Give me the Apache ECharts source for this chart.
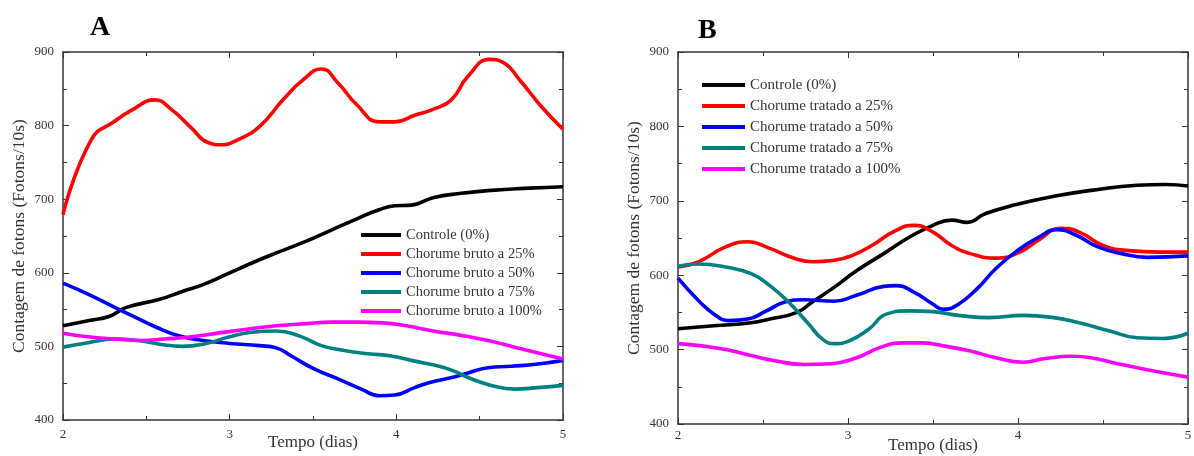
<!DOCTYPE html>
<html>
<head>
<meta charset="utf-8">
<script src="https://cdn.jsdelivr.net/npm/echarts/dist/echarts.min.js"></script>
<style>
  html, body { margin: 0; padding: 0; background: #fff; }
  #chart { width: 1194px; height: 456px; }
</style>
</head>
<body>
<div id="chart"></div>
<script>
// eixo y / eixo x
var yTicks = [400, 500, 600, 700, 800, 900];
var xTicks = [2, 3, 4, 5];

// ---- painel A (chorume bruto) ----
var namesA = ["Controle (0%)", "Chorume bruto a 25%", "Chorume bruto a 50%", "Chorume bruto a 75%", "Chorume bruto a 100%"];

var aCtrlX = [2.0, 2.15, 2.28, 2.38, 2.58, 2.72, 2.84, 3.0, 3.14, 3.28, 3.46, 3.6, 3.76, 3.9, 3.99, 4.09, 4.22, 4.39, 4.57, 4.8, 5.0];
var aCtrlY = [528, 535, 541, 553, 564, 575, 584, 600, 614, 627, 643, 657, 673, 686, 691, 692, 702, 708, 712, 715, 717];

var a25X = [2.0, 2.17, 2.31, 2.42, 2.55, 2.65, 2.77, 2.87, 2.95, 3.05, 3.18, 3.32, 3.44, 3.55, 3.65, 3.76, 3.9, 3.99, 4.11, 4.22, 4.33, 4.43, 4.56, 4.64, 4.74, 4.87, 5.0];
var a25Y = [679, 781, 806, 822, 835, 822, 797, 777, 774, 781, 799, 835, 862, 877, 858, 829, 805, 805, 814, 822, 835, 867, 890, 886, 862, 826, 795];

var a50X = [2.0, 2.15, 2.31, 2.42, 2.56, 2.7, 2.84, 3.0, 3.18, 3.28, 3.37, 3.51, 3.65, 3.79, 3.9, 3.99, 4.11, 4.2, 4.34, 4.43, 4.55, 4.69, 4.85, 5.0];
var a50Y = [586, 571, 553, 541, 526, 514, 508, 504, 501, 498, 487, 469, 456, 442, 433, 434, 444, 451, 458, 464, 471, 473, 476, 481];

var a75X = [2.0, 2.15, 2.31, 2.45, 2.58, 2.72, 2.84, 3.0, 3.12, 3.28, 3.42, 3.55, 3.67, 3.83, 3.97, 4.11, 4.22, 4.34, 4.45, 4.57, 4.71, 4.85, 5.0];
var a75Y = [499, 505, 510, 508, 503, 500, 503, 513, 519, 521, 514, 501, 495, 490, 487, 480, 475, 467, 456, 447, 442, 444, 447];

var a100X = [2.0, 2.15, 2.31, 2.47, 2.61, 2.77, 2.93, 3.09, 3.28, 3.46, 3.62, 3.76, 3.92, 4.06, 4.22, 4.39, 4.55, 4.71, 4.87, 5.0];
var a100Y = [518, 513, 510, 508, 510, 513, 518, 523, 528, 531, 533, 533, 532, 528, 521, 515, 508, 499, 490, 483];

// ---- painel B (chorume tratado) ----
var namesB = ["Controle (0%)", "Chorume tratado a 25%", "Chorume tratado a 50%", "Chorume tratado a 75%", "Chorume tratado a 100%"];

var bCtrlX = [2.0, 2.21, 2.43, 2.54, 2.7, 2.79, 2.92, 3.05, 3.21, 3.36, 3.5, 3.61, 3.7, 3.81, 3.99, 4.21, 4.43, 4.7, 4.87, 5.0];
var bCtrlY = [528, 532, 536, 541, 550, 564, 584, 606, 629, 651, 667, 674, 671, 683, 695, 706, 714, 721, 722, 720];

var b25X = [2.0, 2.12, 2.28, 2.41, 2.54, 2.68, 2.79, 2.92, 3.03, 3.14, 3.28, 3.39, 3.5, 3.61, 3.72, 3.87, 4.01, 4.12, 4.25, 4.36, 4.5, 4.65, 4.83, 5.0];
var b25Y = [611, 618, 638, 645, 636, 623, 618, 620, 627, 640, 660, 667, 658, 640, 629, 623, 631, 647, 663, 658, 640, 633, 631, 631];

var b50X = [2.0, 2.12, 2.21, 2.3, 2.41, 2.52, 2.63, 2.74, 2.92, 3.05, 3.21, 3.28, 3.39, 3.5, 3.56, 3.65, 3.76, 3.87, 3.99, 4.12, 4.23, 4.34, 4.47, 4.61, 4.76, 5.0];
var b50Y = [596, 566, 548, 539, 541, 552, 564, 567, 565, 573, 585, 586, 577, 561, 554, 561, 582, 609, 632, 651, 661, 654, 638, 629, 624, 626];

var b75X = [2.0, 2.12, 2.28, 2.43, 2.54, 2.65, 2.77, 2.85, 2.92, 3.01, 3.12, 3.23, 3.36, 3.5, 3.65, 3.83, 4.03, 4.21, 4.36, 4.54, 4.7, 4.85, 5.0];
var b75Y = [612, 615, 611, 602, 586, 564, 534, 514, 508, 512, 527, 548, 552, 551, 546, 543, 546, 543, 536, 525, 516, 515, 522];

var b100X = [2.0, 2.14, 2.28, 2.43, 2.57, 2.74, 2.9, 3.05, 3.19, 3.32, 3.43, 3.56, 3.72, 3.87, 4.03, 4.16, 4.32, 4.43, 4.61, 4.76, 5.0];
var b100Y = [508, 505, 500, 492, 485, 480, 481, 489, 503, 509, 509, 505, 498, 489, 483, 488, 491, 489, 480, 473, 463];

var colors = ["#000000", "#ff0000", "#0000ff", "#008080", "#ff00ff"];
var serif = "Liberation Serif, Times New Roman, serif";
var txt = "#333333";

function pairs(xs, ys) {
  var out = [];
  for (var i = 0; i < xs.length; i++) out.push([xs[i], ys[i]]);
  return out;
}

function xAxisFor(grid, pos, labelMargin, nameGap) {
  var bottom = pos === "bottom";
  return {
    type: "value",
    gridIndex: grid,
    position: pos,
    min: xTicks[0],
    max: xTicks[xTicks.length - 1],
    interval: 1,
    name: bottom ? "Tempo (dias)" : "",
    nameLocation: "middle",
    nameGap: nameGap,
    nameMoveOverlap: false,
    nameTextStyle: { fontFamily: serif, fontSize: 17, color: txt },
    axisLine: { lineStyle: { color: "#333", width: 1.5 } },
    axisTick: { inside: true, length: 6, lineStyle: { color: "#333" } },
    minorTick: { show: true, splitNumber: 2, length: 4, lineStyle: { color: "#333" } },
    splitLine: { show: false },
    axisLabel: { show: bottom, fontFamily: serif, fontSize: 13, color: txt, margin: labelMargin }
  };
}

function yAxisFor(grid, pos) {
  var left = pos === "left";
  return {
    type: "value",
    gridIndex: grid,
    position: pos,
    min: yTicks[0],
    max: yTicks[yTicks.length - 1],
    interval: 100,
    name: left ? "Contagem de fotons (Fotons/10s)" : "",
    nameLocation: "middle",
    nameGap: 35,
    nameMoveOverlap: false,
    nameTextStyle: { fontFamily: serif, fontSize: 17.5, color: txt },
    axisLine: { show: true, lineStyle: { color: "#333", width: 1.5 } },
    axisTick: { inside: true, length: 6, lineStyle: { color: "#333" } },
    minorTick: { show: true, splitNumber: 2, length: 4, lineStyle: { color: "#333" } },
    splitLine: { show: false },
    axisLabel: { show: left, fontFamily: serif, fontSize: 13, color: txt, margin: 9 }
  };
}

function lineSeries(name, data, i, axisIdx) {
  return {
    name: name,
    type: "line",
    xAxisIndex: axisIdx,
    yAxisIndex: axisIdx,
    data: data,
    smooth: 0.5,
    showSymbol: false,
    symbol: "none",
    lineStyle: { width: 3.6, color: colors[i] },
    itemStyle: { color: colors[i] },
    silent: true
  };
}

var dataA = [pairs(aCtrlX, aCtrlY), pairs(a25X, a25Y), pairs(a50X, a50Y), pairs(a75X, a75Y), pairs(a100X, a100Y)];
var dataB = [pairs(bCtrlX, bCtrlY), pairs(b25X, b25Y), pairs(b50X, b50Y), pairs(b75X, b75Y), pairs(b100X, b100Y)];

var series = [];
for (var i = 0; i < 5; i++) series.push(lineSeries(namesA[i], dataA[i], i, 0));
for (var j = 0; j < 5; j++) series.push(lineSeries(namesB[j], dataB[j], j, 2));

var chart = echarts.init(document.getElementById("chart"));
chart.setOption({
  animation: false,
  backgroundColor: "#fff",
  title: [
    { text: "A", left: 85, top: 9, textStyle: { fontFamily: serif, fontSize: 28, fontWeight: "bold", color: "#000" } },
    { text: "B", left: 693, top: 12, textStyle: { fontFamily: serif, fontSize: 28, fontWeight: "bold", color: "#000" } }
  ],
  grid: [
    { left: 63, top: 52, right: 631, bottom: 36, outerBoundsMode: "none" },
    { left: 678, top: 52, right: 6, bottom: 32, outerBoundsMode: "none" }
  ],
  xAxis: [xAxisFor(0, "bottom", 8, 14), xAxisFor(0, "top", 8, 14), xAxisFor(1, "bottom", 5, 13), xAxisFor(1, "top", 5, 13)],
  yAxis: [yAxisFor(0, "left"), yAxisFor(0, "right"), yAxisFor(1, "left"), yAxisFor(1, "right")],
  legend: [
    {
      data: namesA, orient: "vertical", left: 356, top: 222,
      icon: "rect", itemWidth: 40, itemHeight: 4, itemGap: 3,
      textStyle: { fontFamily: serif, fontSize: 14.5, color: txt, lineHeight: 16 }
    },
    {
      data: namesB, orient: "vertical", left: 697, top: 72,
      icon: "rect", itemWidth: 43, itemHeight: 4, itemGap: 5,
      textStyle: { fontFamily: serif, fontSize: 15, color: txt, lineHeight: 16 }
    }
  ],
  series: series
});
</script>
</body>
</html>
